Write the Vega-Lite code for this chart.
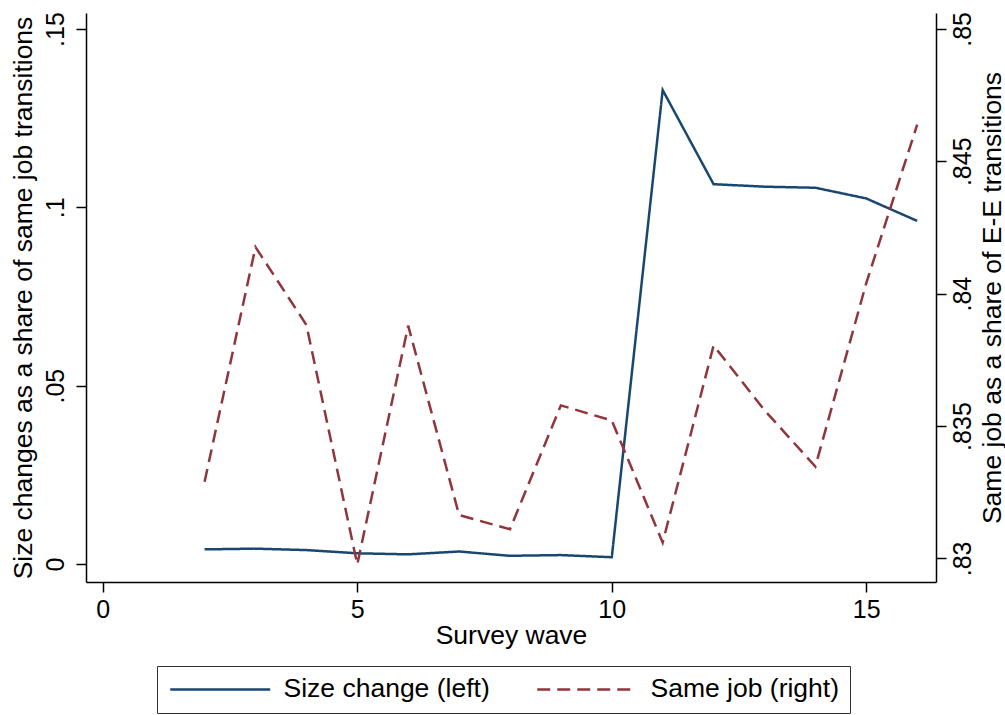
{
  "$schema": "https://vega.github.io/schema/vega-lite/v6.json",
  "width": 850,
  "height": 569,
  "autosize": {"type": "none"},
  "padding": {"left": 86, "top": 13, "right": 69, "bottom": 133},
  "background": "white",
  "config": {
    "view": {"stroke": null},
    "font": "Liberation Sans",
    "axis": {
      "domainColor": "black",
      "domainWidth": 1.5,
      "tickColor": "black",
      "tickWidth": 1.5,
      "tickSize": 10,
      "grid": false,
      "labelColor": "black",
      "titleColor": "black",
      "labelFont": "Liberation Sans",
      "titleFont": "Liberation Sans",
      "labelFontSize": 25,
      "titleFontSize": 26.5,
      "titleFontWeight": "normal",
      "labelFlush": false,
      "labelOverlap": false,
      "labelBound": false
    },
    "legend": {
      "labelFont": "Liberation Sans",
      "labelFontSize": 26.5,
      "labelColor": "black",
      "labelLimit": 400
    }
  },
  "data": {
    "values": [
      {"wave": 2, "series": "Size change (left)", "value": 0.0041},
      {"wave": 3, "series": "Size change (left)", "value": 0.0043},
      {"wave": 4, "series": "Size change (left)", "value": 0.0039},
      {"wave": 5, "series": "Size change (left)", "value": 0.0030},
      {"wave": 6, "series": "Size change (left)", "value": 0.0027},
      {"wave": 7, "series": "Size change (left)", "value": 0.0035},
      {"wave": 8, "series": "Size change (left)", "value": 0.0023},
      {"wave": 9, "series": "Size change (left)", "value": 0.0025},
      {"wave": 10, "series": "Size change (left)", "value": 0.0019},
      {"wave": 11, "series": "Size change (left)", "value": 0.1329},
      {"wave": 12, "series": "Size change (left)", "value": 0.1065},
      {"wave": 13, "series": "Size change (left)", "value": 0.1058},
      {"wave": 14, "series": "Size change (left)", "value": 0.1055},
      {"wave": 15, "series": "Size change (left)", "value": 0.1025},
      {"wave": 16, "series": "Size change (left)", "value": 0.0962},
      {"wave": 2, "series": "Same job (right)", "value": 0.8329},
      {"wave": 3, "series": "Same job (right)", "value": 0.84176},
      {"wave": 4, "series": "Same job (right)", "value": 0.83882},
      {"wave": 5, "series": "Same job (right)", "value": 0.82977},
      {"wave": 6, "series": "Same job (right)", "value": 0.83879},
      {"wave": 7, "series": "Same job (right)", "value": 0.83164},
      {"wave": 8, "series": "Same job (right)", "value": 0.8311},
      {"wave": 9, "series": "Same job (right)", "value": 0.83578},
      {"wave": 10, "series": "Same job (right)", "value": 0.83521},
      {"wave": 11, "series": "Same job (right)", "value": 0.8306},
      {"wave": 12, "series": "Same job (right)", "value": 0.83804},
      {"wave": 13, "series": "Same job (right)", "value": 0.8356},
      {"wave": 14, "series": "Same job (right)", "value": 0.83347},
      {"wave": 15, "series": "Same job (right)", "value": 0.8404},
      {"wave": 16, "series": "Same job (right)", "value": 0.84638}
    ]
  },
  "encoding": {
    "x": {
      "field": "wave",
      "type": "quantitative",
      "scale": {"domain": [-0.33, 16.37], "nice": false, "zero": false},
      "axis": {
        "title": "Survey wave",
        "values": [0, 5, 10, 15],
        "format": "d",
        "labelPadding": 5,
        "titleBaseline": "alphabetic",
        "titleY": 61
      }
    },
    "color": {
      "field": "series",
      "type": "nominal",
      "scale": {
        "domain": ["Size change (left)", "Same job (right)"],
        "range": ["#1a476f", "#90353b"]
      },
      "legend": {
        "title": null,
        "orient": "none",
        "legendX": 71,
        "legendY": 653,
        "direction": "horizontal",
        "strokeColor": "#333333",
        "padding": 10,
        "symbolType": "M-1,0H9",
        "symbolSize": 400,
        "symbolStrokeWidth": 2.5,
        "labelOffset": 90,
        "labelLimit": 400,
        "columnPadding": 42
      }
    },
    "strokeDash": {
      "field": "series",
      "type": "nominal",
      "scale": {
        "domain": ["Size change (left)", "Same job (right)"],
        "range": [[1, 0], [13, 7]]
      },
      "legend": {
        "title": null,
        "orient": "none",
        "legendX": 71,
        "legendY": 653,
        "direction": "horizontal",
        "strokeColor": "#333333",
        "padding": 10,
        "symbolType": "M-1,0H9",
        "symbolSize": 400,
        "symbolStrokeWidth": 2.5,
        "labelOffset": 90,
        "labelLimit": 400,
        "columnPadding": 42
      }
    }
  },
  "layer": [
    {
      "transform": [{"filter": "datum.series === 'Size change (left)'"}],
      "mark": {"type": "line", "strokeWidth": 2.5},
      "encoding": {
        "y": {
          "field": "value",
          "type": "quantitative",
          "scale": {"domain": [-0.00505, 0.1545], "nice": false, "zero": false},
          "axis": {
            "orient": "left",
            "title": "Size changes as a share of same job transitions",
            "values": [0, 0.05, 0.1, 0.15],
            "format": ".2~f",
            "labelExpr": "datum.value == 0 ? '0' : slice(datum.label, 1)",
            "labelAngle": -90,
            "labelAlign": "center",
            "labelBaseline": "alphabetic",
            "labelPadding": 13,
            "titleAngle": -90,
            "titleBaseline": "middle",
            "titleAlign": "center",
            "titleX": -63
          }
        }
      }
    },
    {
      "transform": [{"filter": "datum.series === 'Same job (right)'"}],
      "mark": {"type": "line", "strokeWidth": 2.5},
      "encoding": {
        "y": {
          "field": "value",
          "type": "quantitative",
          "scale": {"domain": [0.82911, 0.8506], "nice": false, "zero": false},
          "axis": {
            "orient": "right",
            "title": "Same job as a share of E-E transitions",
            "values": [0.83, 0.835, 0.84, 0.845, 0.85],
            "format": ".3~f",
            "labelExpr": "slice(datum.label, 1)",
            "labelAngle": -90,
            "labelAlign": "center",
            "labelBaseline": "top",
            "labelPadding": 4,
            "titleAngle": -90,
            "titleBaseline": "middle",
            "titleAlign": "center",
            "titleX": 56
          }
        }
      }
    }
  ],
  "resolve": {"scale": {"y": "independent"}}
}
